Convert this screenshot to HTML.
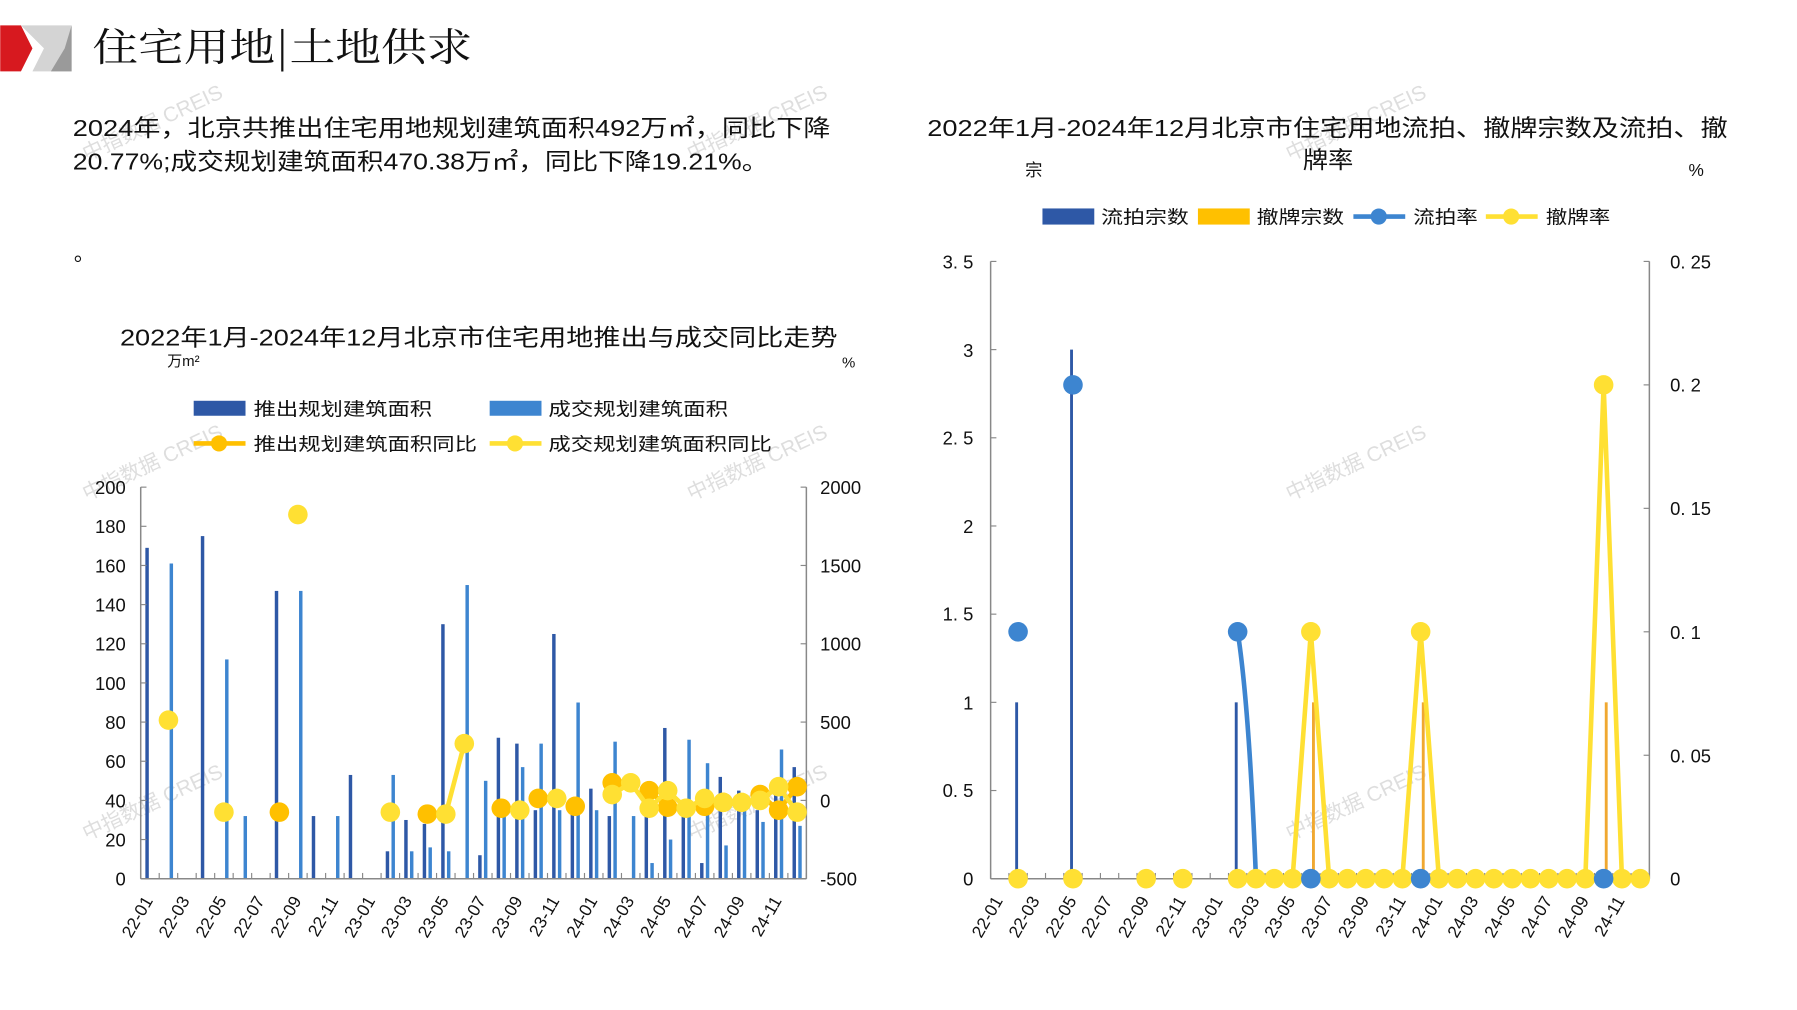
<!DOCTYPE html>
<html><head><meta charset="utf-8"><style>
html,body{margin:0;padding:0;background:#fff;}
svg{display:block;}
text{font-family:"Liberation Sans","Noto Sans CJK SC",sans-serif;fill:#111;}
.t{font-family:"Noto Serif CJK SC","Noto Sans CJK SC",serif;}
.wm text{fill:#dedede;font-size:18px;}
</style></head><body>
<svg id="s" width="1797" height="1010" viewBox="0 0 1560 877" xmlns="http://www.w3.org/2000/svg">
<rect width="1560" height="877" fill="#fff"/>
<polygon points="0,22 18,22 28,42 18,62 0,62" fill="#d7191f"/>
<polygon points="18,22 62,22 62,62 28,62 38,42" fill="#d4d4d4"/>
<polygon points="62,22 62,62 44,62 56,42" fill="#9a9a9a"/>
<g class="wm">
<text transform="translate(75,140) rotate(-25)">中指数据 CREIS</text>
<text transform="translate(600,140) rotate(-25)">中指数据 CREIS</text>
<text transform="translate(1120,140) rotate(-25)">中指数据 CREIS</text>
<text transform="translate(75,435) rotate(-25)">中指数据 CREIS</text>
<text transform="translate(600,435) rotate(-25)">中指数据 CREIS</text>
<text transform="translate(1120,435) rotate(-25)">中指数据 CREIS</text>
<text transform="translate(75,730) rotate(-25)">中指数据 CREIS</text>
<text transform="translate(600,730) rotate(-25)">中指数据 CREIS</text>
<text transform="translate(1120,730) rotate(-25)">中指数据 CREIS</text>
</g>
<text class="t" x="80" y="53" font-size="34" textLength="330" lengthAdjust="spacingAndGlyphs">住宅用地|土地供求</text>
<text x="63" y="118" font-size="20" textLength="658" lengthAdjust="spacingAndGlyphs">2024年，北京共推出住宅用地规划建筑面积492万㎡，同比下降</text>
<text x="63" y="147" font-size="20" textLength="604" lengthAdjust="spacingAndGlyphs">20.77%;成交规划建筑面积470.38万㎡，同比下降19.21%。</text>
<text x="64" y="226" font-size="18">。</text>

<text x="104" y="300" font-size="20" textLength="623" lengthAdjust="spacingAndGlyphs">2022年1月-2024年12月北京市住宅用地推出与成交同比走势</text>
<text x="145" y="318" font-size="13">万m²</text>
<text x="731" y="319" font-size="13">%</text>
<rect x="168" y="348" width="45" height="13" fill="#2E58A6"/>
<text x="220" y="361" font-size="16" textLength="155" lengthAdjust="spacingAndGlyphs">推出规划建筑面积</text>
<rect x="425" y="348" width="45" height="13" fill="#3D85D0"/>
<text x="476" y="361" font-size="16" textLength="156" lengthAdjust="spacingAndGlyphs">成交规划建筑面积</text>
<line x1="168" y1="385" x2="213" y2="385" stroke="#FFC000" stroke-width="4"/><circle cx="190" cy="385" r="7" fill="#FFC000"/>
<text x="220" y="391" font-size="16" textLength="194" lengthAdjust="spacingAndGlyphs">推出规划建筑面积同比</text>
<line x1="425" y1="385" x2="470" y2="385" stroke="#FFE033" stroke-width="4"/><circle cx="447" cy="385" r="7" fill="#FFE033"/>
<text x="476" y="391" font-size="16" textLength="194" lengthAdjust="spacingAndGlyphs">成交规划建筑面积同比</text>
<g font-size="16" text-anchor="end">
<text x="109" y="429">200</text><text x="109" y="463">180</text><text x="109" y="497">160</text><text x="109" y="531">140</text><text x="109" y="565">120</text><text x="109" y="599">100</text><text x="109" y="633">80</text><text x="109" y="667">60</text><text x="109" y="701">40</text><text x="109" y="735">20</text><text x="109" y="769">0</text>
</g>
<g font-size="16">
<text x="712" y="429">2000</text><text x="712" y="497">1500</text><text x="712" y="565">1000</text><text x="712" y="633">500</text><text x="712" y="701">0</text><text x="712" y="769">-500</text>
</g>
<g id="L"></g>
<g font-size="15" text-anchor="end">
<text transform="translate(133,782) rotate(-60)">22-01</text>
<text transform="translate(165,782) rotate(-60)">22-03</text>
<text transform="translate(197,782) rotate(-60)">22-05</text>
<text transform="translate(230,782) rotate(-60)">22-07</text>
<text transform="translate(262,782) rotate(-60)">22-09</text>
<text transform="translate(294,782) rotate(-60)">22-11</text>
<text transform="translate(326,782) rotate(-60)">23-01</text>
<text transform="translate(358,782) rotate(-60)">23-03</text>
<text transform="translate(390,782) rotate(-60)">23-05</text>
<text transform="translate(422,782) rotate(-60)">23-07</text>
<text transform="translate(454,782) rotate(-60)">23-09</text>
<text transform="translate(486,782) rotate(-60)">23-11</text>
<text transform="translate(519,782) rotate(-60)">24-01</text>
<text transform="translate(551,782) rotate(-60)">24-03</text>
<text transform="translate(583,782) rotate(-60)">24-05</text>
<text transform="translate(615,782) rotate(-60)">24-07</text>
<text transform="translate(647,782) rotate(-60)">24-09</text>
<text transform="translate(679,782) rotate(-60)">24-11</text>
</g>

<text x="805" y="118" font-size="20" textLength="695" lengthAdjust="spacingAndGlyphs">2022年1月-2024年12月北京市住宅用地流拍、撤牌宗数及流拍、撤</text>
<text x="1131" y="146" font-size="20" textLength="44" lengthAdjust="spacingAndGlyphs">牌率</text>
<text x="890" y="153" font-size="15">宗</text>
<text x="1466" y="153" font-size="15">%</text>
<rect x="905" y="181" width="45" height="14" fill="#2E58A6"/>
<text x="956" y="194" font-size="16" textLength="76" lengthAdjust="spacingAndGlyphs">流拍宗数</text>
<rect x="1040" y="181" width="45" height="14" fill="#FFC000"/>
<text x="1091" y="194" font-size="16" textLength="76" lengthAdjust="spacingAndGlyphs">撤牌宗数</text>
<line x1="1175" y1="188" x2="1220" y2="188" stroke="#3D85D0" stroke-width="4"/><circle cx="1197" cy="188" r="7" fill="#3D85D0"/>
<text x="1227" y="194" font-size="16" textLength="56" lengthAdjust="spacingAndGlyphs">流拍率</text>
<line x1="1290" y1="188" x2="1335" y2="188" stroke="#FFE033" stroke-width="4"/><circle cx="1312" cy="188" r="7" fill="#FFE033"/>
<text x="1342" y="194" font-size="16" textLength="56" lengthAdjust="spacingAndGlyphs">撤牌率</text>
<g font-size="16" text-anchor="end">
<text x="845" y="233">3. 5</text><text x="845" y="310">3</text><text x="845" y="386">2. 5</text><text x="845" y="463">2</text><text x="845" y="539">1. 5</text><text x="845" y="616">1</text><text x="845" y="692">0. 5</text><text x="845" y="769">0</text>
</g>
<g font-size="16">
<text x="1450" y="233">0. 25</text><text x="1450" y="340">0. 2</text><text x="1450" y="447">0. 15</text><text x="1450" y="555">0. 1</text><text x="1450" y="662">0. 05</text><text x="1450" y="769">0</text>
</g>
<g id="R"></g>
<g font-size="15" text-anchor="end">
<text transform="translate(871,782) rotate(-60)">22-01</text>
<text transform="translate(903,782) rotate(-60)">22-03</text>
<text transform="translate(935,782) rotate(-60)">22-05</text>
<text transform="translate(966,782) rotate(-60)">22-07</text>
<text transform="translate(998,782) rotate(-60)">22-09</text>
<text transform="translate(1030,782) rotate(-60)">22-11</text>
<text transform="translate(1062,782) rotate(-60)">23-01</text>
<text transform="translate(1094,782) rotate(-60)">23-03</text>
<text transform="translate(1125,782) rotate(-60)">23-05</text>
<text transform="translate(1157,782) rotate(-60)">23-07</text>
<text transform="translate(1189,782) rotate(-60)">23-09</text>
<text transform="translate(1221,782) rotate(-60)">23-11</text>
<text transform="translate(1253,782) rotate(-60)">24-01</text>
<text transform="translate(1284,782) rotate(-60)">24-03</text>
<text transform="translate(1316,782) rotate(-60)">24-05</text>
<text transform="translate(1348,782) rotate(-60)">24-07</text>
<text transform="translate(1380,782) rotate(-60)">24-09</text>
<text transform="translate(1411,782) rotate(-60)">24-11</text>
</g>
</svg>
<script>
var NS="http://www.w3.org/2000/svg";
function el(p,t,a){var e=document.createElementNS(NS,t);for(var k in a)e.setAttribute(k,a[k]);p.appendChild(e);return e;}
(function(){
var g=document.getElementById("L");
var x0=122,x1=700,yb=763,yt=423,n=36,w=(x1-x0)/n;
function yl(v){return yb-(v/200)*(yb-yt);}
function yr(v){return yb-((v+500)/2500)*(yb-yt);}
var push=[169,0,0,175,0,0,0,147,0,32,0,53,0,14,30,28,130,0,12,72,69,35,125,35,46,32,0,35,77,35,8,52,45,35,43,57];
var deal=[0,161,0,0,112,32,0,0,147,0,32,0,0,53,14,16,14,150,50,35,57,69,35,90,35,70,32,8,20,71,59,17,35,29,66,27];
for(var i=0;i<n;i++){var c=x0+w*(i+0.5);
 if(push[i])el(g,"rect",{x:c-4,y:yl(push[i]),width:3,height:yb-yl(push[i]),fill:"#2E58A6"});
 if(deal[i])el(g,"rect",{x:c+1,y:yl(deal[i]),width:3,height:yb-yl(deal[i]),fill:"#3D85D0"});
}
el(g,"line",{x1:x0,y1:yt,x2:x0,y2:yb,stroke:"#888","stroke-width":1.3});
el(g,"line",{x1:x1,y1:yt,x2:x1,y2:yb,stroke:"#888","stroke-width":1.3});
el(g,"line",{x1:x0,y1:yb,x2:x1,y2:yb,stroke:"#888","stroke-width":1.3});
for(var v=0;v<=200;v+=20)el(g,"line",{x1:x0,y1:yl(v),x2:x0+5,y2:yl(v),stroke:"#888"});
for(var v=-500;v<=2000;v+=500)el(g,"line",{x1:x1-5,y1:yr(v),x2:x1,y2:yr(v),stroke:"#888"});
for(var i=0;i<=n;i++)el(g,"line",{x1:x0+w*i,y1:yb-5,x2:x0+w*i,y2:yb,stroke:"#888"});
function L(v){return v*12.5-500;}
var oy={7:34,15:33,19:36,21:41,23:37,25:49,27:45,28:36.5,30:37,31:39,33:43,34:35,35:47};
var yy={1:81,4:34,8:186,13:34,16:33,17:69,20:35,22:41,25:43,26:49,27:36,28:45,29:36,30:41,31:39,32:39,33:40,34:47,35:34};
function draw(d,col){var pts=[];for(var i=0;i<=36;i++){if(d[i]!==undefined){pts.push([x0+w*(i+0.5),yr(L(d[i]))]);}else{if(pts.length>1)el(g,"polyline",{points:pts.map(function(p){return p.join(",")}).join(" "),fill:"none",stroke:col,"stroke-width":4,"stroke-linejoin":"round"});pts=[];}}
 for(var k in d)el(g,"circle",{cx:x0+w*(+k+0.5),cy:yr(L(d[k])),r:8.5,fill:col});}
draw(oy,"#FFC000");draw(yy,"#FFE033");
})();
(function(){
var g=document.getElementById("R");
var x0=860,x1=1432,yb=763,yt=227,n=36,w=(x1-x0)/n;
function yl(v){return yb-(v/3.5)*(yb-yt);}
function yr(v){return yb-(v/0.25)*(yb-yt);}
var lb={1:1,4:3,13:1},cb={17:1,23:1,33:1};
for(var k in lb){var c=x0+w*(+k+0.5);el(g,"rect",{x:c-2.5,y:yl(lb[k]),width:2.5,height:yb-yl(lb[k]),fill:"#2E58A6"});}
for(var k in cb){var c=x0+w*(+k+0.5);el(g,"rect",{x:c+1,y:yl(cb[k]),width:2.5,height:yb-yl(cb[k]),fill:"#F0A830"});}
el(g,"line",{x1:x0,y1:yt,x2:x0,y2:yb,stroke:"#888","stroke-width":1.3});
el(g,"line",{x1:x1,y1:yt,x2:x1,y2:yb,stroke:"#888","stroke-width":1.3});
el(g,"line",{x1:x0,y1:yb,x2:x1,y2:yb,stroke:"#888","stroke-width":1.3});
for(var v=0;v<=3.5;v+=0.5)el(g,"line",{x1:x0,y1:yl(v),x2:x0+5,y2:yl(v),stroke:"#888"});
for(var v=0;v<=0.25001;v+=0.05)el(g,"line",{x1:x1-5,y1:yr(v),x2:x1,y2:yr(v),stroke:"#888"});
for(var i=0;i<=n;i++)el(g,"line",{x1:x0+w*i,y1:yb-5,x2:x0+w*i,y2:yb,stroke:"#888"});
function X(i){return x0+w*(i+0.5);}
el(g,"path",{d:"M"+X(13)+","+yr(0.1)+" Q"+(X(13)+10)+","+yr(0.07)+" "+X(14)+","+yr(0),fill:"none",stroke:"#3D85D0","stroke-width":4});
var yv={};for(var i=13;i<=35;i++)yv[i]=0;yv[17]=0.1;yv[23]=0.1;yv[33]=0.2;
var pts=[];for(var i=13;i<=35;i++)pts.push(X(i)+","+yr(yv[i]));
el(g,"polyline",{points:pts.join(" "),fill:"none",stroke:"#FFE033","stroke-width":4,"stroke-linejoin":"round"});
var ym=[1,4,8,10];for(var i=13;i<=35;i++)ym.push(i);
ym.forEach(function(i){if(i==17||i==23||i==33)return;el(g,"circle",{cx:X(i),cy:yr(yv[i]||0),r:8.5,fill:"#FFE033"});});
[17,23,33].forEach(function(i){el(g,"circle",{cx:X(i),cy:yr(yv[i]),r:8.5,fill:"#FFE033"});el(g,"circle",{cx:X(i),cy:yr(0),r:8.5,fill:"#3D85D0"});});
el(g,"circle",{cx:X(1),cy:yr(0.1),r:8.5,fill:"#3D85D0"});
el(g,"circle",{cx:X(4),cy:yr(0.2),r:8.5,fill:"#3D85D0"});
el(g,"circle",{cx:X(13),cy:yr(0.1),r:8.5,fill:"#3D85D0"});
})();
</script>
</body></html>
